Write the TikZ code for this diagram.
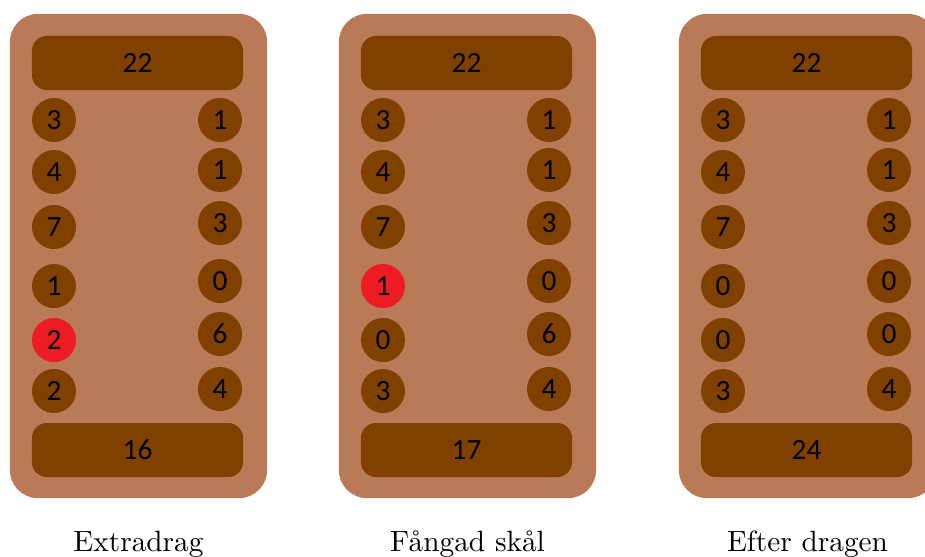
\documentclass[tikz,border=0pt]{standalone}
\usepackage{fontspec}
\newfontfamily\pitfont{Carlito}
\usepackage{xcolor}
\definecolor{boardbrown}{RGB}{185,122,87}
\definecolor{pitbrown}{RGB}{128,64,0}
\definecolor{pitred}{RGB}{237,28,36}
\newcommand{\lefty}{{120,172,227,286,340,391}}
\newcommand{\righty}{{120,170,223,281,334,389}}

\begin{document}
\begin{tikzpicture}[x=0.012cm, y=-0.012cm,
        board/.style={rectangle, fill=boardbrown, rounded corners=0.336cm, minimum width=3.084cm, minimum height=5.808cm},
        store/.style={rectangle, fill=pitbrown, rounded corners=0.18cm, minimum width=2.532cm, minimum height=0.648cm, font=\pitfont},
        pit/.style={circle, fill=pitbrown, minimum size=0.528cm, inner sep=0pt, font=\pitfont},
        hit/.style={pit, fill=pitred},
        caption/.style={anchor=base}]
    \clip (0,0) rectangle (925,556);
    \foreach \b/\dx/\top/\bot/\lpits/\rpits/\red/\cap in {
            1/0/22/16/{3,4,7,1,2,2}/{1,1,3,0,6,4}/5/{Extradrag},
            2/329/22/17/{3,4,7,1,0,3}/{1,1,3,0,6,4}/4/{Fångad skål},
            3/669/22/24/{3,4,7,0,0,3}/{1,1,3,0,0,4}/0/{Efter dragen}} {
        \node[board] (b\b) at (\dx+138.5, 256) {};
        \node[store] (b\b top) at (\dx+137.5, 63) {\top};
        \node[store] (b\b bot) at (\dx+137.5, 450) {\bot};
        \foreach \v [count=\i] in \lpits {
            \pgfmathsetmacro{\y}{\lefty[\i-1]}
            \ifnum\i=\red \def\st{hit}\else \def\st{pit}\fi
            \node[\st] (b\b l\i) at (\dx+54, \y) {\v};
        }
        \foreach \v [count=\i] in \rpits {
            \pgfmathsetmacro{\y}{\righty[\i-1]}
            \node[pit] (b\b r\i) at (\dx+220, \y) {\v};
        }
        \node[caption] (cap\b) at (\dx+138.5, 551) {\cap};
    }
\end{tikzpicture}
\end{document}
